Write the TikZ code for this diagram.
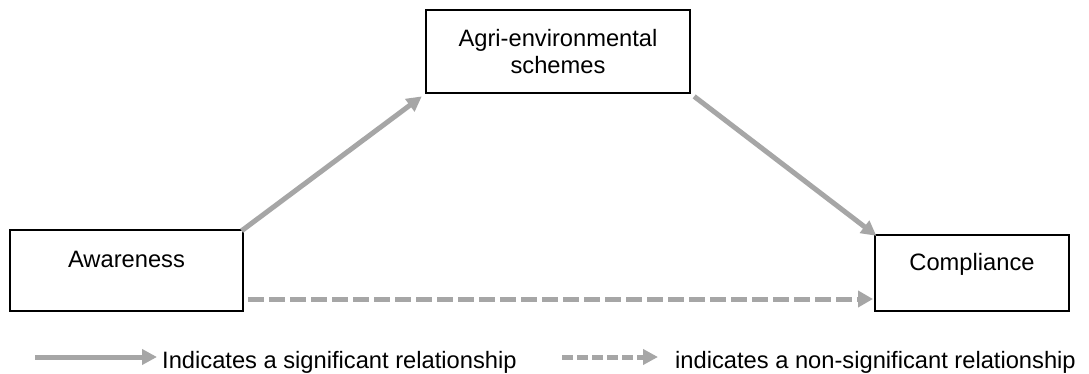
\documentclass[tikz,border=0pt]{standalone}
\usepackage{fontspec}
\setmainfont{Liberation Sans}
\usetikzlibrary{arrows.meta,calc}
\definecolor{arrgray}{HTML}{A6A6A6}
\tikzset{
  box/.style={draw=black, line width=2pt, rectangle, inner sep=0pt},
  lbl/.style={inner sep=0pt, font=\fontsize{23.7}{27}\selectfont},
  sig/.style={draw=arrgray, line width=5pt, -{Triangle[length=15pt,width=15pt]}},
  nsig/.style={draw=arrgray, line width=5pt, dash pattern=on 16pt off 5pt, -{Triangle[length=15pt,width=16pt]}},
  nsiglg/.style={draw=arrgray, line width=5pt, dash pattern=on 11pt off 4pt, -{Triangle[length=15pt,width=15pt]}}
}
\begin{document}
\begin{tikzpicture}[x=1pt,y=-1pt]
\useasboundingbox[fill=white] (0,0) rectangle (1089,374);
% boxes
\node[box, minimum width=264pt, minimum height=83pt, align=center, font=\fontsize{23.7}{27}\selectfont] (ag) at (558,51.5) {Agri-environmental\\schemes};
\node[box, minimum width=233pt, minimum height=81pt] (aw) at (126.5,270.5) {};
\node[box, minimum width=194pt, minimum height=76pt] (cp) at (972,273) {};
\node[lbl, anchor=base] (awt) at (126.5,267) {Awareness};
\node[lbl, anchor=base] (cpt) at (972,270) {Compliance};
% connectors
\coordinate (dy) at (0,299);
\draw[sig, shorten <=-3pt, shorten >=4pt] (aw.north east) -- (ag.south west);
\draw[sig, shorten <=4pt, shorten >=-3pt] (ag.south east) -- (cp.north west);
\draw[nsig, shorten <=4pt, shorten >=1pt] (aw.east |- dy) -- (cp.west |- dy);
% legend
\coordinate (ls1) at (35,357);
\coordinate (ls2) at (157,357);
\coordinate (ld1) at (562,357);
\coordinate (ld2) at (658,357);
\draw[sig] (ls1) -- (ls2);
\draw[nsiglg] (ld1) -- (ld2);
\node[lbl, anchor=base west] (lt1) at (162,368) {Indicates a significant relationship};
\node[lbl, anchor=base west] (lt2) at (675,368) {indicates a non-significant relationship};
\end{tikzpicture}
\end{document}
